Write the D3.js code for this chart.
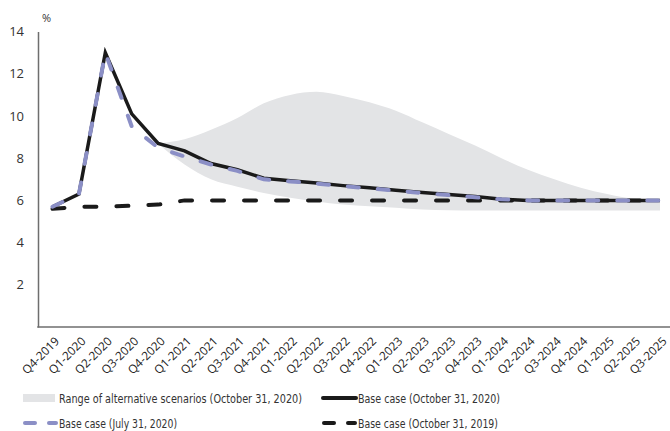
<!DOCTYPE html>
<html>
<head>
<meta charset="utf-8">
<script src="https://cdn.jsdelivr.net/npm/d3@7/dist/d3.min.js"></script>
<style>
  html, body { margin: 0; padding: 0; background: #fff; }
  svg { display: block; }
</style>
</head>
<body>
<svg id="chart" width="670" height="431"></svg>
<script>
const quarters = ["Q4-2019","Q1-2020","Q2-2020","Q3-2020","Q4-2020","Q1-2021","Q2-2021","Q3-2021",
  "Q4-2021","Q1-2022","Q2-2022","Q3-2022","Q4-2022","Q1-2023","Q2-2023","Q3-2023","Q4-2023",
  "Q1-2024","Q2-2024","Q3-2024","Q4-2024","Q1-2025","Q2-2025","Q3-2025"];

const baseOct2020 = [5.7,6.3,13.0,10.1,8.7,8.35,7.75,7.45,7.05,6.93,6.82,6.7,6.6,6.48,6.37,6.28,6.18,6.05,6.0,6.0,6.0,6.0,6.0,6.0];
const baseJul2020 = [5.7,6.3,13.0,9.5,8.5,8.08,7.7,7.4,7.0,6.9,6.8,6.68,6.57,6.46,6.35,6.25,6.15,6.05,6.0,6.0,6.0,6.0,6.0,6.0];
const baseOct2019 = [5.6,5.7,5.7,5.75,5.8,6.0,6.0,6.0,6.0,6.0,6.0,6.0,6.0,6.0,6.0,6.0,6.0,6.0,6.0,6.0,6.0,6.0,6.0,6.0];
const rangeUpper = [null,null,null,null,8.7,8.9,9.35,9.9,10.6,11.0,11.15,10.95,10.65,10.25,9.7,9.15,8.6,8.0,7.45,7.0,6.6,6.3,6.08,6.02];
const rangeLower = [null,null,null,null,8.7,7.7,7.0,6.65,6.35,6.12,5.95,5.8,5.72,5.65,5.57,5.53,5.52,5.52,5.52,5.52,5.52,5.52,5.52,5.52];
const yTicks = [2,4,6,8,10,12,14];
const legendLabels = ["Range of alternative scenarios (October 31, 2020)","Base case (October 31, 2020)",
  "Base case (July 31, 2020)","Base case (October 31, 2019)"];

const svg = d3.select("#chart");
const x = d3.scalePoint().domain(quarters).range([52.5, 660]);
const y = d3.scaleLinear().domain([0, 14]).range([327, 31.6]);

// gray range band
const bandData = quarters.map((q, i) => ({q, lo: rangeLower[i], hi: rangeUpper[i]})).filter(d => d.hi != null);
svg.append("path")
  .datum(bandData)
  .attr("fill", "#e3e4e6")
  .attr("d", d3.area().x(d => x(d.q)).y0(d => y(d.lo)).y1(d => y(d.hi)).curve(d3.curveMonotoneX));

// Axes
const yAxis = d3.axisLeft(y).tickValues(yTicks).tickSize(0).tickSizeOuter(0).tickPadding(14);
const gy = svg.append("g").attr("transform", "translate(38,0)").call(yAxis);
gy.select(".domain").attr("stroke", "#6e6e6e").attr("stroke-width", 1.5);
gy.selectAll("text").attr("font-family", "'Open Sans', 'Liberation Sans', Arial, sans-serif").attr("font-size", 13).attr("fill", "#333");

svg.append("line").attr("x1", 37.25).attr("x2", 670).attr("y1", y(0)).attr("y2", y(0))
  .attr("stroke", "#6e6e6e").attr("stroke-width", 1.5);

const xAxis = d3.axisBottom(x).tickSize(0).tickSizeOuter(0).tickPadding(0);
const gx = svg.append("g").attr("transform", `translate(0,${y(0)})`).call(xAxis);
gx.select(".domain").remove();
gx.selectAll("text")
  .attr("font-family", "'Open Sans', 'DejaVu Sans', sans-serif")
  .attr("font-size", 11.8)
  .attr("fill", "#222")
  .attr("text-anchor", "end")
  .attr("dy", 0)
  .attr("transform", "translate(7,15) rotate(-45)");

svg.append("text").attr("x", 42).attr("y", 22).text("%")
  .attr("font-family", "'Open Sans', 'Liberation Sans', Arial, sans-serif").attr("font-size", 11).attr("fill", "#333");

// Lines
const line = d3.line().x((d, i) => x(quarters[i])).y(d => y(d));
svg.append("path").datum(baseOct2019).attr("d", line).attr("fill", "none")
  .attr("stroke", "#1a1a1a").attr("stroke-width", 4).attr("stroke-dasharray", "12,20").attr("stroke-linecap", "round");
svg.append("path").datum(baseOct2020).attr("d", line).attr("fill", "none")
  .attr("stroke", "#1a1a1a").attr("stroke-width", 3.5).attr("stroke-linejoin", "miter");
svg.append("path").datum(baseJul2020).attr("d", line).attr("fill", "none")
  .attr("stroke", "#8b8fc6").attr("stroke-width", 4).attr("stroke-dasharray", "11,19").attr("stroke-linecap", "round");

// Legend
const legFont = "'Liberation Sans Narrow', 'DejaVu Sans Condensed', Arial, sans-serif";
const leg = [
  {x: 23, y: 398, type: "band", label: legendLabels[0], tl: 243},
  {x: 322, y: 398, type: "solid", label: legendLabels[1], tl: 142},
  {x: 23, y: 423, type: "purple", label: legendLabels[2], tl: 118},
  {x: 322, y: 423, type: "dash", label: legendLabels[3], tl: 140}
];
leg.forEach(d => {
  const g = svg.append("g");
  if (d.type === "band") {
    g.append("rect").attr("x", d.x).attr("y", d.y - 4).attr("width", 32).attr("height", 8).attr("fill", "#e3e4e6");
  } else if (d.type === "solid") {
    g.append("line").attr("x1", d.x + 1).attr("x2", d.x + 34).attr("y1", d.y).attr("y2", d.y)
      .attr("stroke", "#1a1a1a").attr("stroke-width", 4).attr("stroke-linecap", "round");
  } else {
    const col = d.type === "purple" ? "#8b8fc6" : "#1a1a1a";
    g.append("line").attr("x1", d.x + 2).attr("x2", d.x + 12).attr("y1", d.y).attr("y2", d.y)
      .attr("stroke", col).attr("stroke-width", 4).attr("stroke-linecap", "round");
    g.append("line").attr("x1", d.x + 26).attr("x2", d.x + 33).attr("y1", d.y).attr("y2", d.y)
      .attr("stroke", col).attr("stroke-width", 4).attr("stroke-linecap", "round");
  }
  g.append("text").attr("x", d.x + 36).attr("y", d.y + 4.5).text(d.label)
    .attr("font-family", legFont).attr("font-size", 12.5).attr("fill", "#333")
    .attr("textLength", d.tl).attr("lengthAdjust", "spacingAndGlyphs");
});
</script>
</body>
</html>
